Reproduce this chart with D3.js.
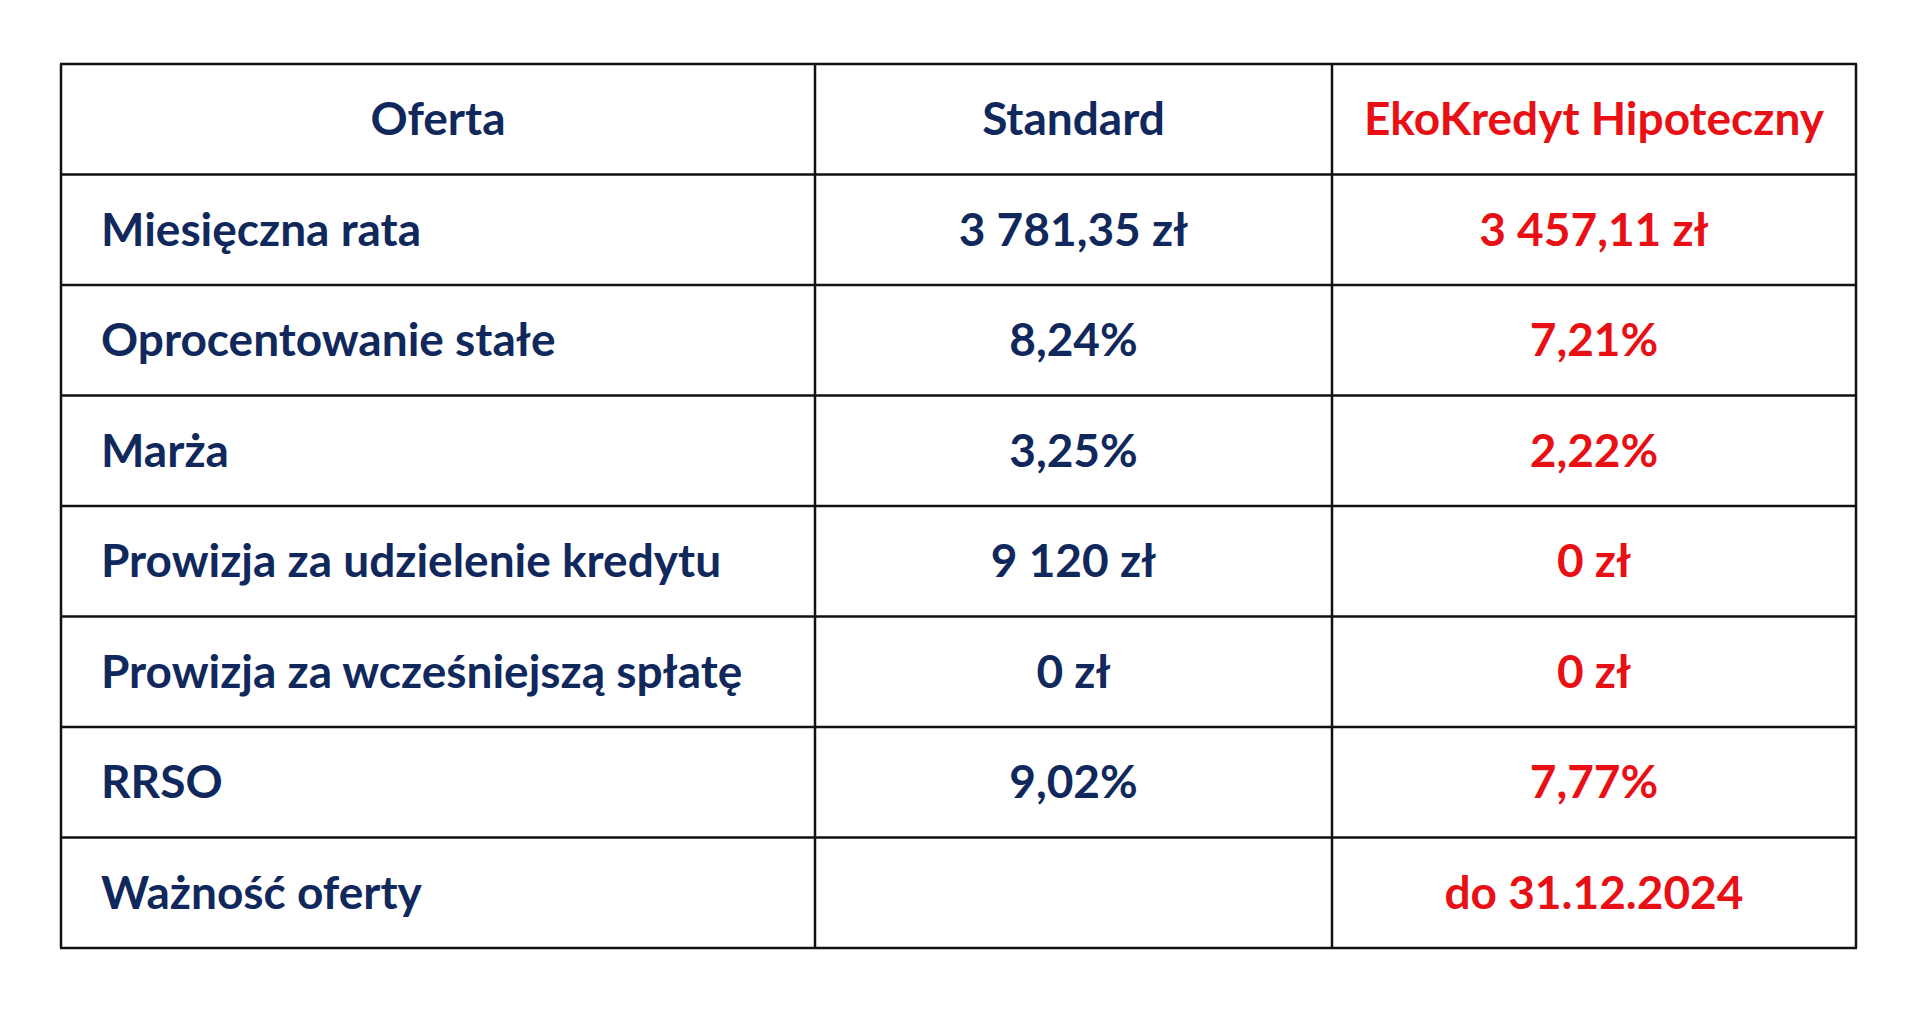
<!DOCTYPE html>
<html><head><meta charset="utf-8">
<script src="https://cdn.jsdelivr.net/npm/d3@7"></script>
<style>body{margin:0;background:#fff}</style>
</head><body>
<svg id="chart" width="1912" height="1010"></svg>
<script>
const headers = ['Oferta', 'Standard', 'EkoKredyt Hipoteczny'];
const rowLabels = ['Miesięczna rata', 'Oprocentowanie stałe', 'Marża', 'Prowizja za udzielenie kredytu',
  'Prowizja za wcześniejszą spłatę', 'RRSO', 'Ważność oferty'];
const standard = ['3 781,35 zł', '8,24%', '3,25%', '9 120 zł', '0 zł', '9,02%', ''];
const eko = ['3 457,11 zł', '7,21%', '2,22%', '0 zł', '0 zł', '7,77%', 'do 31.12.2024'];

const navy = '#10285c', red = '#e81015';
const svg = d3.select('#chart');
const colEdges = [61, 815, 1332, 1856];
const y = d3.scaleLinear().domain([0, 8]).range([64, 948]);
const g = svg.append('g').attr('font-family', 'Lato, "Open Sans", sans-serif').attr('font-weight', 'bold');

// grid lines
d3.range(9).forEach(i => g.append('line').attr('x1', colEdges[0] - 1).attr('x2', colEdges[3] + 1)
  .attr('y1', y(i)).attr('y2', y(i)).attr('stroke', '#111').attr('stroke-width', 2.5));
colEdges.forEach(x => g.append('line').attr('x1', x).attr('x2', x).attr('y1', y(0)).attr('y2', y(8))
  .attr('stroke', '#111').attr('stroke-width', 2.5));

const fs = 46;
const cx = i => (colEdges[i] + colEdges[i + 1]) / 2;
headers.forEach((h, i) => g.append('text').attr('x', cx(i)).attr('y', (y(0) + y(1)) / 2)
  .attr('dy', '0.35em').attr('text-anchor', 'middle').attr('font-size', fs)
  .attr('fill', i === 2 ? red : navy).text(h));

rowLabels.forEach((lab, r) => {
  const yc = (y(r + 1) + y(r + 2)) / 2;
  g.append('text').attr('x', 101).attr('y', yc).attr('dy', '0.35em').attr('font-size', fs).attr('fill', navy).text(lab);
  g.append('text').attr('x', cx(1)).attr('y', yc).attr('dy', '0.35em').attr('text-anchor', 'middle')
    .attr('font-size', fs).attr('fill', navy).text(standard[r]);
  g.append('text').attr('x', cx(2)).attr('y', yc).attr('dy', '0.35em').attr('text-anchor', 'middle')
    .attr('font-size', fs).attr('fill', red).text(eko[r]);
});
</script>
</body></html>
